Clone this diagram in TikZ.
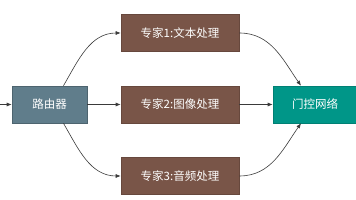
\documentclass[tikz,border=0pt]{standalone}
\usepackage{fontspec}
\setmainfont{Noto Sans CJK SC}
\usetikzlibrary{arrows.meta, positioning, calc}
\definecolor{routerblue}{HTML}{607D8B}
\definecolor{expertbrown}{HTML}{795548}
\definecolor{gateteal}{HTML}{009688}
\definecolor{linegray}{HTML}{3A3A3A}

\begin{document}
\begin{tikzpicture}[
    x=1pt, y=1pt,
    box/.style={draw, line width=0.6pt, minimum height=37pt, font=\fontsize{11.5}{13}\selectfont, text=white, inner sep=0pt},
    arr/.style={-{Latex[length=5pt, width=4pt]}, linegray, line width=0.6pt},
]
\useasboundingbox (0,0) rectangle (356,200);

\node[box, fill=routerblue, draw=routerblue!80!black, minimum width=75pt] (router) at (49.5,95.5) {路由器};
\node[box, fill=expertbrown, draw=expertbrown!85!black, minimum width=118pt] (e1) at (180,167) {专家1:文本处理};
\node[box, fill=expertbrown, draw=expertbrown!85!black, minimum width=118pt] (e2) at (180,95.5) {专家2:图像处理};
\node[box, fill=expertbrown, draw=expertbrown!85!black, minimum width=118pt] (e3) at (180,24) {专家3:音频处理};
\node[box, fill=gateteal, draw=gateteal!85!black, minimum width=84pt] (gate) at (315,95.5) {门控网络};

\coordinate (input) at (0,95.5);

% input and straight path
\draw[arr] (input) -- (router);
\foreach \a/\b in {router/e2, e2/gate} {
    \draw[arr] (\a) -- (\b);
}

% curved branches
\draw[arr] ([xshift=14pt]router.north) to[out=60, in=180] (e1.west);
\draw[arr] ([xshift=14pt]router.south) to[out=-60, in=180] (e3.west);
\draw[arr] (e1.east) to[out=0, in=125] ([xshift=-14pt]gate.north);
\draw[arr] (e3.east) to[out=0, in=-125] ([xshift=-14pt]gate.south);

\end{tikzpicture}
\end{document}
